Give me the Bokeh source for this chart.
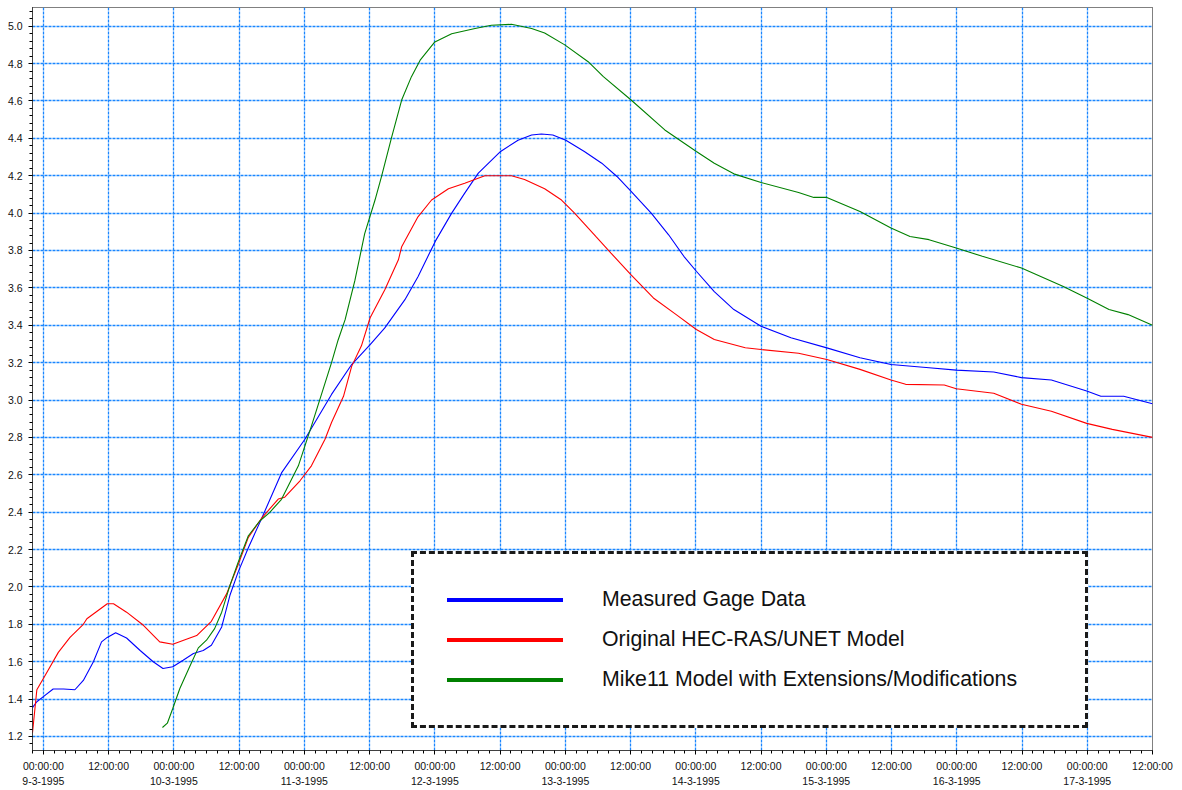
from bokeh.plotting import figure
from bokeh.models import FixedTicker, Range1d, Legend, LegendItem
from bokeh.embed import file_html
from bokeh.resources import INLINE

# hours since 9-3-1995 00:00:00
measured_h = [-2.0, -1.2, 0, 1.8, 3.7, 5.8, 7.35, 9.2, 10.7, 11.75, 13.3, 15.3, 17.8, 20.2, 22.0, 23.8,
              25.7, 27.6, 29.4, 30.9, 32.8, 34.3, 35.8, 37.7, 40.2, 43.8, 48.1, 53.0, 56.7, 60.1, 62.8,
              66.5, 68.9, 72.1, 75.1, 77.5, 80.0, 84.1, 87.3, 89.8, 91.6, 93.7, 96.1, 99.5, 102.7,
              105.5, 108.1, 111.8, 115.0, 117.8, 120.1, 123.4, 127.0, 132.0, 137.5, 144.1, 150.2,
              155.9, 162.9, 167.9, 174.8, 179.9, 185.4, 191.9, 194.5, 198.7, 204.0]
measured_v = [1.354, 1.386, 1.413, 1.454, 1.454, 1.45, 1.50, 1.60, 1.706, 1.73, 1.755, 1.727, 1.66, 1.60,
              1.564, 1.573, 1.608, 1.644, 1.66, 1.688, 1.786, 1.954, 2.078, 2.21, 2.37, 2.61, 2.79, 3.03,
              3.19, 3.297, 3.386, 3.537, 3.66, 3.85, 4.0, 4.107, 4.214, 4.33, 4.39, 4.418, 4.423, 4.418,
              4.39, 4.33, 4.267, 4.196, 4.116, 4.0, 3.884, 3.769, 3.689, 3.58, 3.484, 3.395, 3.333,
              3.279, 3.226, 3.19, 3.173, 3.16, 3.15, 3.12, 3.107, 3.048, 3.02, 3.02, 2.98]

hecras_h = [-2.0, -1.2, 0, 2.75, 4.9, 7.35, 8.0, 11.75, 12.9, 15.3, 18.4, 21.4, 23.8, 26.3, 28.2, 30.9,
            33.7, 35.8, 37.7, 40.2, 43.2, 44.4, 47.2, 49.3, 51.8, 53.0, 55.2, 56.7, 58.5, 60.1, 62.8,
            65.3, 65.9, 68.9, 71.4, 74.5, 77.5, 81.2, 86.1, 88.5, 92.2, 95.3, 97.7, 101.6, 104.4, 108.1,
            112.2, 116.4, 120.1, 123.4, 129.1, 132.0, 138.9, 144.1, 150.2, 155.9, 158.6, 165.7, 167.9,
            174.8, 179.9, 185.4, 191.9, 196.6, 204.0]
hecras_v = [1.22, 1.45, 1.51, 1.65, 1.73, 1.80, 1.83, 1.91, 1.91, 1.865, 1.795, 1.706, 1.693, 1.72, 1.74,
            1.816, 1.963, 2.117, 2.265, 2.37, 2.47, 2.48, 2.568, 2.648, 2.79, 2.88, 3.02, 3.18, 3.29,
            3.44, 3.59, 3.75, 3.82, 3.98, 4.07, 4.13, 4.16, 4.20, 4.20, 4.18, 4.13, 4.07, 4.0, 3.875,
            3.786, 3.67, 3.546, 3.457, 3.377, 3.324, 3.28, 3.27, 3.25, 3.217, 3.164, 3.107, 3.084, 3.08,
            3.06, 3.036, 2.977, 2.94, 2.875, 2.843, 2.80]

mike_h = [21.9, 22.8, 23.8, 25.1, 26.9, 28.5, 30.0, 31.5, 32.8, 34.3, 35.8, 37.7, 39.8, 41.6, 43.8, 46.9,
          49.3, 53.0, 54.2, 55.5, 57.3, 59.1, 61.0, 62.2, 64.0, 65.9, 67.7, 69.3, 72.0, 75.1, 79.4, 82.4,
          86.1, 89.8, 92.2, 95.9, 100.2, 103.0, 108.1, 114.3, 120.1, 123.4, 127.0, 132.0, 138.9, 141.7,
          144.1, 150.2, 155.9, 159.4, 162.9, 167.9, 172.7, 179.9, 187.5, 191.9, 196.0, 199.5, 204.0]
mike_v = [1.248, 1.271, 1.35, 1.457, 1.573, 1.674, 1.715, 1.777, 1.865, 2.007, 2.13, 2.274, 2.353, 2.398,
          2.469, 2.648, 2.86, 3.20, 3.32, 3.43, 3.64, 3.89, 4.07, 4.196, 4.40, 4.605, 4.73, 4.818, 4.916,
          4.96, 4.988, 5.005, 5.01, 4.988, 4.964, 4.90, 4.81, 4.73, 4.605, 4.445, 4.33, 4.267, 4.21,
          4.164, 4.11, 4.084, 4.084, 4.009, 3.92, 3.875, 3.858, 3.813, 3.769, 3.706, 3.609, 3.546,
          3.484, 3.457, 3.40]

series_names = ["Measured Gage Data", "Original HEC-RAS/UNET Model",
                "Mike11 Model with Extensions/Modifications"]
series_colors = ["#0000ff", "#ff0000", "#008000"]

x_major = list(range(0, 205, 12))
x_minor = list(range(-2, 205, 2))
x_labels = {}
for h in x_major:
    if h % 24 == 0:
        x_labels[h] = "00:00:00\n%d-3-1995" % (9 + h // 24)
    else:
        x_labels[h] = "12:00:00"

y_major = [round(1.2 + 0.2 * i, 2) for i in range(20)]
y_minor = [round(1.12 + 0.04 * i, 2) for i in range(100)]
y_labels = {v: "%.1f" % v for v in y_major}

FONT = "Liberation Sans"

p = figure(width=1182, height=790, output_backend="svg", toolbar_location=None,
           x_range=Range1d(-2, 204), y_range=Range1d(1.125, 5.1),
           min_border_left=32, min_border_right=30, min_border_top=7, min_border_bottom=38)
p.background_fill_color = "white"
p.border_fill_color = "white"
p.outline_line_color = "black"
p.outline_line_dash = "1 1"
p.outline_line_width = 1

p.xaxis.ticker = FixedTicker(ticks=x_major, minor_ticks=x_minor)
p.yaxis.ticker = FixedTicker(ticks=y_major, minor_ticks=y_minor)
p.xaxis.major_label_overrides = x_labels
p.yaxis.major_label_overrides = y_labels
for ax in (p.xaxis, p.yaxis):
    ax.axis_line_color = "black"
    ax.axis_line_dash = "1 1"
    ax.major_tick_line_color = "black"
    ax.minor_tick_line_color = "black"
    ax.major_tick_in = 0
    ax.minor_tick_in = 0
    ax.major_tick_out = 4
    ax.minor_tick_out = 3
    ax.major_label_text_font = FONT
    ax.major_label_text_color = "#111111"
p.xaxis.major_label_text_font_size = "10.5px"
p.xaxis.major_label_text_line_height = 1.3
p.xaxis.major_label_standoff = 5
p.yaxis.major_label_text_font_size = "10.5px"
p.yaxis.major_label_standoff = 6

for g in (p.xgrid, p.ygrid):
    g.grid_line_color = "#1a86ff"
    g.grid_line_dash = "3 1"
    g.grid_line_width = 1.3
p.xgrid.ticker = FixedTicker(ticks=x_major)
p.ygrid.ticker = FixedTicker(ticks=y_major)

data = [(measured_h, measured_v), (hecras_h, hecras_v), (mike_h, mike_v)]
items = []
for (hx, vy), c, name in zip(data, series_colors, series_names):
    p.line(hx, vy, line_color=c, line_width=1.1)
    # thick copy used only for the legend swatch (hidden in the plot)
    r = p.line(hx, vy, line_color=c, line_width=4, line_cap="round", visible=False)
    items.append(LegendItem(label=name, renderers=[r]))

legend = Legend(items=items, location=(379, 22))
legend.label_text_font = FONT
legend.label_text_font_size = "21.3px"
legend.label_text_color = "#111111"
legend.padding = 33
legend.margin = 0
legend.glyph_width = 116
legend.glyph_height = 25
legend.label_height = 25
legend.label_width = 450
legend.label_standoff = 39
legend.spacing = 15
legend.border_line_color = "#1a1a1a"
legend.border_line_alpha = 1.0
legend.border_line_width = 3
legend.border_line_dash = "2 1"
legend.background_fill_color = "white"
legend.background_fill_alpha = 1.0
legend.inactive_fill_alpha = 0.0
p.add_layout(legend, "center")

open("out.html", "w").write(file_html(p, INLINE))
